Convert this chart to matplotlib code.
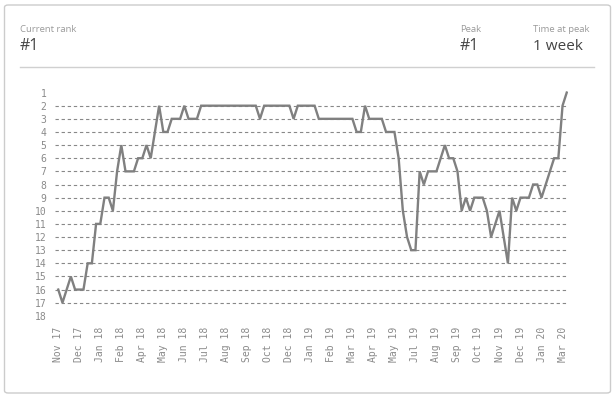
import numpy as np
import matplotlib
matplotlib.use('Agg')
import matplotlib.pyplot as plt
from matplotlib.patches import FancyBboxPatch

# weekly chart rank, Nov 2017 -> Mar 2020
ranks = [16, 17, 16, 15, 16, 16, 16, 14, 14, 11, 11, 9, 9, 10, 7, 5, 7, 7, 7, 6,
         6, 5, 6, 4, 2, 4, 4, 3, 3, 3, 2, 3, 3, 3, 2, 2, 2, 2, 2, 2,
         2, 2, 2, 2, 2, 2, 2, 2, 3, 2, 2, 2, 2, 2, 2, 2, 3, 2, 2, 2,
         2, 2, 3, 3, 3, 3, 3, 3, 3, 3, 3, 4, 4, 2, 3, 3, 3, 3, 4, 4,
         4, 6, 10, 12, 13, 13, 7, 8, 7, 7, 7, 6, 5, 6, 6, 7, 10, 9, 10, 9,
         9, 9, 10, 12, 11, 10, 12, 14, 9, 10, 9, 9, 9, 8, 8, 9, 8, 7, 6, 6,
         2, 1]
x_labels = ['Nov 17', 'Dec 17', 'Jan 18', 'Feb 18', 'Apr 18', 'May 18', 'Jun 18',
            'Jul 18', 'Aug 18', 'Sep 18', 'Oct 18', 'Dec 18', 'Jan 19', 'Feb 19',
            'Mar 19', 'Apr 19', 'May 19', 'Jul 19', 'Aug 19', 'Sep 19', 'Oct 19',
            'Nov 19', 'Dec 19', 'Jan 20', 'Mar 20']
y_labels = list(range(1, 19))
current_rank = '#1'
peak = '#1'
time_at_peak = '1 week'

W, H = 615, 398
fig = plt.figure(figsize=(W / 100, H / 100), dpi=100)
fig.patch.set_facecolor('white')

# card border (behind everything)
card = FancyBboxPatch((4.5 / W, 5 / H), (W - 9) / W, (H - 10) / H,
                      boxstyle='round,pad=0,rounding_size=0.006',
                      transform=fig.transFigure, facecolor='white',
                      edgecolor='#cccccc', linewidth=1.0, zorder=-10)
fig.patches.append(card)

# header texts
hdr = ['Open Sans', 'DejaVu Sans']
fig.text(20 / W, 1 - 30 / H, 'Current rank', fontsize=6.8, color='#9a9a9a',
         family=hdr, va='center')
fig.text(20 / W, 1 - 46 / H, current_rank, fontsize=11.5, color='#444444',
         family=hdr, va='center')
fig.text(460 / W, 1 - 30 / H, 'Peak', fontsize=6.8, color='#9a9a9a',
         family=hdr, va='center')
fig.text(460 / W, 1 - 46 / H, peak, fontsize=11.5, color='#444444',
         family=hdr, va='center')
fig.text(533 / W, 1 - 30 / H, 'Time at peak', fontsize=6.8, color='#9a9a9a',
         family=hdr, va='center')
fig.text(533 / W, 1 - 46 / H, time_at_peak, fontsize=11, color='#444444',
         family=hdr, va='center')
fig.add_artist(plt.Line2D([20 / W, 594 / W], [1 - 67 / H, 1 - 67 / H],
                          transform=fig.transFigure, color='#d0d0d0', linewidth=1))

# plot area
ax = fig.add_axes([54.9 / W, 1 - 322.4 / H, 513.1 / W, 236.4 / H])
ax.set_facecolor('none')
weeks = np.arange(len(ranks))
ax.hlines(range(2, 18), -0.8, 121.3, colors='#888888', linestyles=(0, (3, 2.5)),
          linewidth=0.8)
ax.plot(weeks, ranks, color='#808080', linewidth=1.7, solid_joinstyle='miter')

ax.set_xlim(-0.8, 121.3)
ax.set_ylim(18.5, 0.5)
ax.set_yticks(y_labels)
ax.set_yticklabels([str(v) for v in y_labels])
ax.set_xticks(np.arange(0, len(ranks), 5))
ax.set_xticklabels(x_labels, rotation=90)
ax.tick_params(axis='both', length=0, labelsize=7, labelcolor='#8a8a8a')
ax.tick_params(axis='y', pad=6)
ax.tick_params(axis='x', pad=3)
for lab in ax.get_xticklabels() + ax.get_yticklabels():
    lab.set_family('DejaVu Sans Mono')
for s in ax.spines.values():
    s.set_visible(False)

plt.savefig('out.png', dpi=100)
